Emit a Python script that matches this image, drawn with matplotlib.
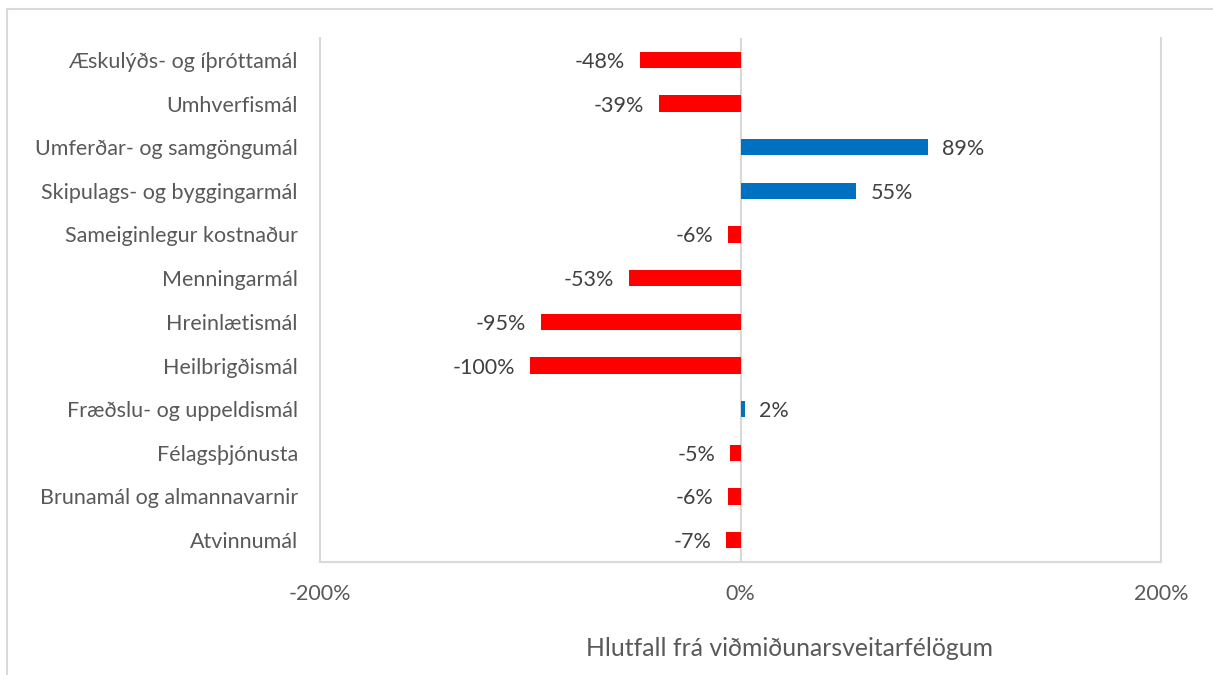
import matplotlib
matplotlib.use("Agg")
import matplotlib.pyplot as plt
from matplotlib.lines import Line2D

categories = [
    "Atvinnumál",
    "Brunamál og almannavarnir",
    "Félagsþjónusta",
    "Fræðslu- og uppeldismál",
    "Heilbrigðismál",
    "Hreinlætismál",
    "Menningarmál",
    "Sameiginlegur kostnaður",
    "Skipulags- og byggingarmál",
    "Umferðar- og samgöngumál",
    "Umhverfismál",
    "Æskulýðs- og íþróttamál",
]
values = [-7, -6, -5, 2, -100, -95, -53, -6, 55, 89, -39, -48]
xticks = [-200, 0, 200]
xtick_labels = ["-200%", "0%", "200%"]
xlabel = "Hlutfall frá viðmiðunarsveitarfélögum"

plt.rcParams['font.family'] = ['Lato', 'DejaVu Sans']
txt = "#595959"
grid = "#d9d9d9"

W, H = 1213, 675
fig = plt.figure(figsize=(W / 100, H / 100), dpi=100)
ax = fig.add_axes([320 / W, 1 - 562 / H, (1161 - 320) / W, (562 - 38) / H])

colors = ["#0070C0" if v >= 0 else "#FF0000" for v in values]
ypos = list(range(len(categories)))
ax.barh(ypos, values, height=0.37, color=colors, zorder=3)

for y, v in zip(ypos, values):
    if v >= 0:
        ax.text(v + 7, y, f"{v}%", va="center_baseline", ha="left", fontsize=15.5, color="#404040")
    else:
        ax.text(v - 7, y, f"{v}%", va="center_baseline", ha="right", fontsize=15.5, color="#404040")

ax.set_xlim(-200, 200)
ax.set_ylim(-0.5, len(categories) - 0.5)
ax.set_yticks(ypos)
ax.set_yticklabels(categories, fontsize=15.5, color=txt)
ax.set_xticks(xticks)
ax.set_xticklabels(xtick_labels, fontsize=15.5, color=txt)
ax.tick_params(axis="both", length=0)
ax.tick_params(axis="y", pad=16)
ax.tick_params(axis="x", pad=16)
ax.axvline(0, color=grid, lw=1.5, zorder=2)
for s in ["left", "right", "bottom"]:
    ax.spines[s].set_color(grid)
    ax.spines[s].set_linewidth(1.5)
ax.spines["top"].set_visible(False)

# axis title (centred on the chart area, as in the reference)
fig.text(790 / W, 1 - 646 / H, xlabel, fontsize=17.8, color=txt, ha="center", va="center_baseline")

# figure border (left and top)
fig.add_artist(Line2D([7 / W, 7 / W], [0, 1 - 9 / H], color=grid, lw=1.5, transform=fig.transFigure))
fig.add_artist(Line2D([7 / W, 1], [1 - 9 / H, 1 - 9 / H], color=grid, lw=1.5, transform=fig.transFigure))

fig.savefig("out.png", dpi=100)
